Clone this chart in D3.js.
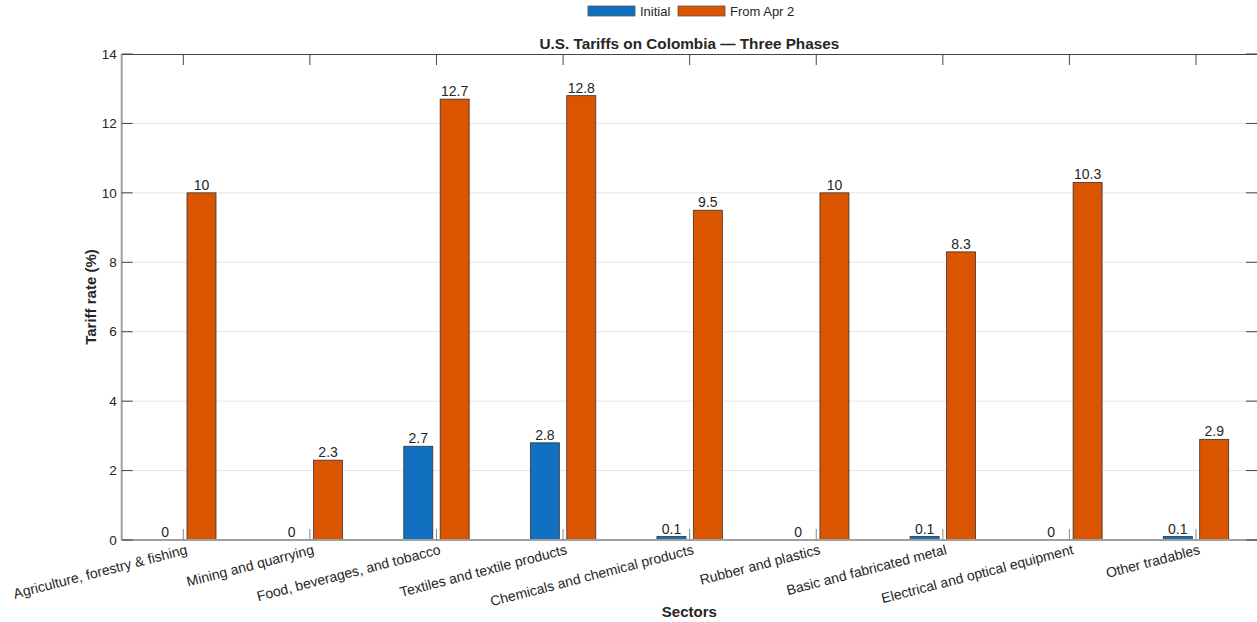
<!DOCTYPE html>
<html><head><meta charset="utf-8">
<script src="https://cdn.jsdelivr.net/npm/d3@7"></script>
<style>body{margin:0;background:#fff}svg{display:block;font-family:"Liberation Sans",Arial,sans-serif}</style>
</head><body>
<script>
const categories = ["Agriculture, forestry & fishing","Mining and quarrying","Food, beverages, and tobacco","Textiles and textile products","Chemicals and chemical products","Rubber and plastics","Basic and fabricated metal","Electrical and optical equipment","Other tradables"];
const initialValues = [0,0,2.7,2.8,0.1,0,0.1,0,0.1];
const aprValues = [10,2.3,12.7,12.8,9.5,10,8.3,10.3,2.9];
const seriesNames = ["Initial","From Apr 2"];
const yTicks = [0,2,4,6,8,10,12,14];

(function(){
const W=1257,H=622;
const colors=["#1170C0","#DB5400"];
const svg=d3.select("body").append("svg").attr("width",W).attr("height",H);
const pLeft=121.7,pRight=1257,pTop=54,pBottom=540;
const x=d3.scaleLinear().domain([1,9]).range([183.3,1196]);
const y=d3.scaleLinear().domain([0,14]).range([pBottom,pTop]);
const bw=29, off=3.7;

// grid
svg.append("g").selectAll("line").data(yTicks.filter(t=>t>0&&t<14)).join("line")
  .attr("x1",pLeft).attr("x2",pRight).attr("y1",d=>y(d)).attr("y2",d=>y(d))
  .attr("stroke","#e6e6e6").attr("stroke-width",1);

// bars
const series=[initialValues,aprValues];
series.forEach((vals,si)=>{
  const g=svg.append("g");
  g.selectAll("rect").data(vals).join("rect")
    .attr("x",(d,i)=> si===0 ? x(i+1)-off-bw : x(i+1)+off)
    .attr("y",d=>y(d)).attr("width",bw).attr("height",d=>y(0)-y(d))
    .attr("fill",colors[si]).attr("stroke","#333").attr("stroke-width",0.8);
  g.selectAll("text").data(vals).join("text")
    .attr("x",(d,i)=> si===0 ? x(i+1)-off-bw/2 : x(i+1)+off+bw/2)
    .attr("y",d=>y(d)-3).attr("text-anchor","middle")
    .attr("font-size",14).attr("fill","#262626").text(d=>d);
});

// axes frame
svg.append("line").attr("x1",pLeft).attr("x2",pRight).attr("y1",pTop+0.5).attr("y2",pTop+0.5).attr("stroke","#444").attr("stroke-width",1);
svg.append("line").attr("x1",pLeft).attr("x2",pRight).attr("y1",pBottom).attr("y2",pBottom).attr("stroke","#a0a0a0").attr("stroke-width",2);
svg.append("line").attr("x1",pLeft).attr("x2",pLeft).attr("y1",pTop).attr("y2",pBottom).attr("stroke","#a0a0a0").attr("stroke-width",2);

// y ticks
const yg=svg.append("g");
yTicks.forEach(t=>{
  yg.append("line").attr("x1",pLeft).attr("x2",pLeft+11).attr("y1",y(t)).attr("y2",y(t)).attr("stroke","#444");
  yg.append("line").attr("x1",pRight-11).attr("x2",pRight).attr("y1",y(t)).attr("y2",y(t)).attr("stroke","#444");
  yg.append("text").attr("x",pLeft-5).attr("y",y(t)).attr("dy","0.35em").attr("text-anchor","end")
    .attr("font-size",13.5).attr("fill","#262626").text(t);
});

// x ticks & labels
const xg=svg.append("g");
categories.forEach((c,i)=>{
  const cx=x(i+1);
  xg.append("line").attr("x1",cx).attr("x2",cx).attr("y1",pTop).attr("y2",pTop+11).attr("stroke","#444");
  xg.append("line").attr("x1",cx).attr("x2",cx).attr("y1",pBottom).attr("y2",pBottom-11).attr("stroke","#888");
  xg.append("text").attr("transform",`translate(${cx+2},${pBottom+3}) rotate(-14.5)`)
    .attr("text-anchor","end").attr("dy","0.8em").attr("font-size",14).attr("fill","#262626").text(c);
});

// titles
svg.append("text").attr("x",(pLeft+pRight)/2).attr("y",49).attr("text-anchor","middle")
  .attr("font-size",15.3).attr("font-weight","bold").attr("fill","#262626").text("U.S. Tariffs on Colombia — Three Phases");
svg.append("text").attr("x",(pLeft+pRight)/2).attr("y",617).attr("text-anchor","middle")
  .attr("font-size",15).attr("font-weight","bold").attr("fill","#262626").text("Sectors");
svg.append("text").attr("transform",`translate(96,${(pTop+pBottom)/2}) rotate(-90)`).attr("text-anchor","middle")
  .attr("font-size",15).attr("font-weight","bold").attr("fill","#262626").text("Tariff rate (%)");

// legend
const lg=svg.append("g");
const legX=[588,678];
seriesNames.forEach((n,i)=>{
  lg.append("rect").attr("x",legX[i]).attr("y",6).attr("width",47).attr("height",10)
    .attr("fill",colors[i]).attr("stroke","#555").attr("stroke-width",0.8);
  lg.append("text").attr("x",legX[i]+52).attr("y",11).attr("dy","0.35em").attr("font-size",13)
    .attr("fill","#262626").text(n);
});
})();
</script>
</body></html>
